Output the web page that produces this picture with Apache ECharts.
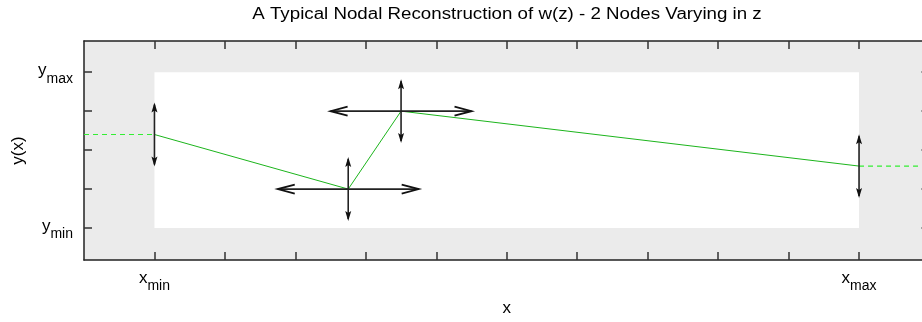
<!DOCTYPE html>
<html><head><meta charset="utf-8">
<script src="https://cdn.jsdelivr.net/npm/echarts@6/dist/echarts.min.js"></script>
<style>html,body{margin:0;padding:0;background:#fff}#c{width:922px;height:322px}</style>
</head><body><div id="c"></div>
<script>
// ---- data ----
const titleText = 'A Typical Nodal Reconstruction of w(z) - 2 Nodes Varying in z';
const xTicks = [0,1,2,3,4,5,6,7,8,9,10];
const yTicks = [0,1,2,3,4];
const xTickLabels = {0: ['x','min'], 10: ['x','max']};
const yTickLabels = {0: ['y','min'], 4: ['y','max']};
const nodeX = [0, 2.75, 3.5, 10];
const nodeY = [2.4, 1.0, 3.0, 1.59];
const nodeDX = [0, 1, 1, 0];      // horizontal arrow half-length (x units)
const nodeDY = [0.82, 0.82, 0.82, 0.82]; // vertical arrow half-length (y units)
const leftExt = [[-1, 2.4], [0, 2.4]];
const rightExt = [[10, 1.59], [11, 1.59]];
const innerBox = [[0, 0], [10, 4]];
const xRange = [-1, 11];
const yRange = [-0.82, 4.8];

const FONT = 'Liberation Sans, Arial, sans-serif';
const rich = {
  b: {fontSize: 17, padding: [0, 0, 8, 0], fontFamily: FONT, color: '#000'},
  s: {fontSize: 14, padding: [8, 0, 0, 0], fontFamily: FONT, color: '#000'}
};
function fmt(map){ return v => { const k = Math.round(v); const t = map[k]; return t ? '{b|' + t[0] + '}{s|' + t[1] + '}' : ''; }; }

const chart = echarts.init(document.getElementById('c'), null, {renderer: 'canvas'});
const axLine = {show: true, onZero: false, lineStyle: {color: '#222', width: 1.5}};
const tick = (vals) => ({show: true, inside: true, length: 8, customValues: vals, lineStyle: {color: '#333', width: 1.5}});

const arrowData = nodeX.map((x, i) => [x, nodeY[i], nodeDX[i], nodeDY[i]]);

chart.setOption({
  animation: false,
  graphic: [{type: 'text', x: 507, y: 15, scaleX: 1.17, silent: true,
    style: {text: titleText, font: '16px ' + FONT, fill: '#000', align: 'center', verticalAlign: 'middle'}}],
  grid: {left: 84, top: 41, width: 845.5, height: 219, show: true, backgroundColor: '#ebebeb',
    borderWidth: 0, containLabel: false, outerBoundsMode: 'none'},
  xAxis: [
    {type: 'value', min: xRange[0], max: xRange[1], position: 'bottom', axisLine: axLine,
     axisTick: tick(xTicks), splitLine: {show: false},
     axisLabel: {customValues: [0, 10], formatter: fmt(xTickLabels), rich: rich, margin: 10},
     name: 'x', nameLocation: 'middle', nameGap: 40,
     nameTextStyle: {fontFamily: FONT, fontSize: 17, color: '#000'}},
    {type: 'value', min: xRange[0], max: xRange[1], position: 'top', axisLine: axLine,
     axisTick: tick(xTicks), splitLine: {show: false}, axisLabel: {show: false}}
  ],
  yAxis: [
    {type: 'value', min: yRange[0], max: yRange[1], position: 'left', axisLine: axLine,
     axisTick: tick(yTicks), splitLine: {show: false},
     axisLabel: {customValues: [0, 4], formatter: fmt(yTickLabels), rich: rich, margin: 11, padding: [5, 0, 0, 0]},
     name: 'y(x)', nameLocation: 'middle', nameGap: 56, nameRotate: 90,
     nameTextStyle: {fontFamily: FONT, fontSize: 17, color: '#000'}},
    {type: 'value', min: yRange[0], max: yRange[1], position: 'right', axisLine: axLine,
     axisTick: tick(yTicks), splitLine: {show: false}, axisLabel: {show: false}}
  ],
  series: [
    {type: 'line', data: nodeX.map((x, i) => [x, nodeY[i]]), symbol: 'none',
     lineStyle: {color: '#1cb51c', width: 1}, z: 3,
     markArea: {silent: true, itemStyle: {color: '#ffffff'},
       data: [[{coord: innerBox[0]}, {coord: innerBox[1]}]]}},
    {type: 'line', data: leftExt, symbol: 'none', lineStyle: {color: '#33ee33', width: 1.2, type: [5, 4]}, z: 3},
    {type: 'line', data: rightExt, symbol: 'none', lineStyle: {color: '#33ee33', width: 1.2, type: [5, 4]}, z: 3},
    {type: 'custom', data: arrowData, z: 4,
     renderItem: function (params, api) {
       const x = api.value(0), y = api.value(1), dx = api.value(2), dy = api.value(3);
       const children = [];
       const st = {stroke: '#222', lineWidth: 1.6, fill: null};
       if (dy > 0) {
         const t = api.coord([x, y + dy]), b = api.coord([x, y - dy]);
         children.push({type: 'line', shape: {x1: t[0], y1: t[1] + 2, x2: b[0], y2: b[1] - 2}, style: st});
         children.push({type: 'polygon', shape: {points: [[t[0], t[1]], [t[0] - 3, t[1] + 10], [t[0], t[1] + 8], [t[0] + 3, t[1] + 10]]}, style: {fill: '#111'}});
         children.push({type: 'polygon', shape: {points: [[b[0], b[1]], [b[0] - 3, b[1] - 10], [b[0], b[1] - 8], [b[0] + 3, b[1] - 10]]}, style: {fill: '#111'}});
       }
       if (dx > 0) {
         const l = api.coord([x - dx, y]), r = api.coord([x + dx, y]);
         const hs = {stroke: '#111', lineWidth: 1.8, fill: null};
         children.push({type: 'line', shape: {x1: l[0], y1: l[1], x2: r[0], y2: r[1]}, style: st});
         children.push({type: 'polyline', shape: {points: [[l[0] + 17, l[1] - 4.5], [l[0], l[1]], [l[0] + 17, l[1] + 4.5]]}, style: hs});
         children.push({type: 'polyline', shape: {points: [[r[0] - 17, r[1] - 4.5], [r[0], r[1]], [r[0] - 17, r[1] + 4.5]]}, style: hs});
       }
       return {type: 'group', children: children};
     }}
  ]
});
</script></body></html>
